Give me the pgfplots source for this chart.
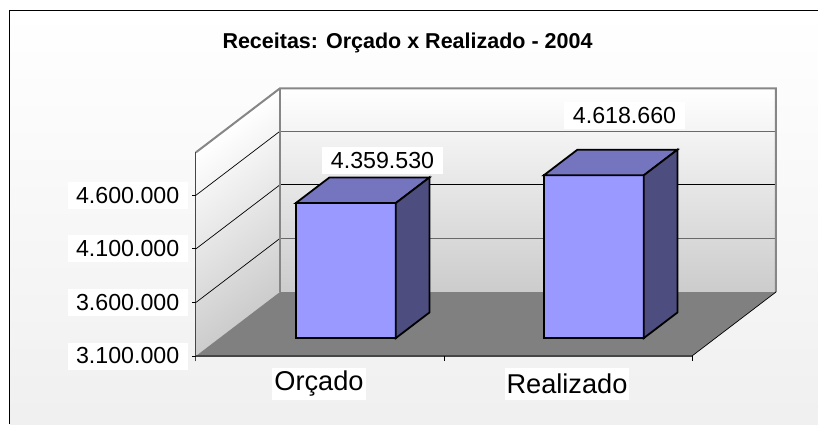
\documentclass[border=0pt]{standalone}
\usepackage{fontspec}
\setmainfont{Liberation Sans}
\usepackage{pgfplots}
\pgfplotsset{compat=1.18}
\definecolor{barfront}{RGB}{153,153,255}
\definecolor{bartop}{RGB}{117,117,191}
\definecolor{barside}{RGB}{77,77,128}
\definecolor{floorgray}{RGB}{128,128,128}
\definecolor{wallline}{RGB}{134,134,134}
\definecolor{midline}{RGB}{105,105,105}
\definecolor{axisdark}{RGB}{70,70,70}
\pgfplotsset{
  shaded/.style={patch, patch type=rectangle, shader=interp, point meta=explicit, forget plot},
  face/.style={fill=#1, draw=black, line width=1.8pt, line join=miter, forget plot},
  stroke/.style 2 args={no marks, draw=#1, line width=#2, forget plot},
}
% one 3D column: x from #1 to #2, depth 0.28 to 0.68, top at value #3 (millions)
\newcommand{\column}[3]{
  \addplot3[face=barfront] coordinates {(#1,0.28,3.1) (#2,0.28,3.1) (#2,0.28,#3) (#1,0.28,#3)} --cycle;
  \addplot3[face=bartop] coordinates {(#1,0.28,#3) (#2,0.28,#3) (#2,0.68,#3) (#1,0.68,#3)} --cycle;
  \addplot3[face=barside] coordinates {(#2,0.28,3.1) (#2,0.68,3.1) (#2,0.68,#3) (#2,0.28,#3)} --cycle;
}
\begin{document}
\begin{tikzpicture}
\begin{axis}[
  x={(248pt,0pt)}, y={(84pt,64pt)}, z={(0pt,107.2pt)},
  xmin=0, xmax=2, ymin=0, ymax=1, zmin=3.1, zmax=5.0,
  clip=false, axis on top=true,
  axis line style={draw=none}, major tick length=0pt,
  xtick={0.5,1.5}, xticklabels={Orçado,Realizado}, ytick=\empty,
  ztick={3.1,3.6,4.1,4.6},
  zticklabels={3.100.000,3.600.000,4.100.000,4.600.000},
  x tick label style={font=\fontsize{27.2}{30}\selectfont, fill=white, inner xsep=2pt, inner ysep=0pt,
    minimum height=32pt, anchor=center, yshift=-28pt, xshift=-1pt},
  z tick label style={font=\fontsize{23.2}{26}\selectfont, fill=white, inner xsep=8.5pt, inner ysep=0pt,
    minimum height=27pt, anchor=east, xshift=-8pt},
  title={\bfseries Receitas: Orçado x Realizado - 2004},
  title style={font=\fontsize{21.5}{24}\selectfont, at={(rel axis cs:0.4265,0,1.5072)}, anchor=center},
  colormap={chartgray}{rgb255=(255,255,255) rgb255=(204,204,204)},
  point meta min=0, point meta max=1,
]
% page and chart area
\coordinate (pagesw) at (axis cs:-0.7903,0,2.4657);
\coordinate (pagene) at (axis cs:2.5081,0,6.4209);
\path[fill=white] (pagesw) rectangle (pagene);
\addplot3[shaded] coordinates {(-0.75,0,2.4657) [0.3] (2.5081,0,2.4657) [0.3] (2.5081,0,6.3183) [0] (-0.75,0,6.3183) [0]};
\addplot3[stroke={black}{1pt}] coordinates {(-0.75,0,2.4657) (-0.75,0,6.3183) (2.5081,0,6.3183)};
% walls and floor
\addplot3[shaded] coordinates {(0,0,3.1) [1] (0,1,3.1) [1] (0,1,5.0) [0] (0,0,5.0) [0]};
\addplot3[shaded] coordinates {(0,1,3.1) [1] (2,1,3.1) [1] (2,1,5.0) [0] (0,1,5.0) [0]};
\addplot3[fill=floorgray, draw=none, forget plot] coordinates {(0,0,3.1) (2,0,3.1) (2,1,3.1) (0,1,3.1)} --cycle;
% gridlines on the side wall, then on the back wall
\addplot3[stroke={black}{0.7pt}] coordinates {(0,0,3.6) (0,1,3.6)};
\addplot3[stroke={black}{0.7pt}] coordinates {(0,0,4.1) (0,1,4.1)};
\addplot3[stroke={black}{0.7pt}] coordinates {(0,0,4.6) (0,1,4.6)};
\addplot3[stroke={midline}{1.3pt}] coordinates {(0,1,3.6) (2,1,3.6)};
\addplot3[stroke={black}{0.8pt}] coordinates {(0,1,4.1) (2,1,4.1)};
\addplot3[stroke={midline}{1.3pt}] coordinates {(0,1,4.6) (2,1,4.6)};
\addplot3[stroke={wallline}{2pt}] coordinates {(0,0,5.0) (0,1,5.0) (2,1,5.0) (2,1,3.1)};
\addplot3[stroke={wallline}{2pt}] coordinates {(0,1,3.1) (0,1,5.0)};
\addplot3[stroke={black}{0.7pt}] coordinates {(2,0,3.1) (2,1,3.1)};
% axis lines and ticks
\addplot3[stroke={axisdark}{1pt}] coordinates {(0,0,3.05) (0,0,5.0)};
\addplot3[stroke={axisdark}{1.6pt}] coordinates {(0,0,3.1) (2,0,3.1)};
\addplot3[stroke={black}{0.7pt}] coordinates {(1,0,3.1) (1,0,3.05)};
\addplot3[stroke={black}{0.7pt}] coordinates {(2,0,3.1) (2,0,3.05)};
\addplot3[stroke={black}{0.7pt}] coordinates {(0,0,3.1) (-0.016,0,3.1)};
\addplot3[stroke={black}{0.7pt}] coordinates {(0,0,3.6) (-0.016,0,3.6)};
\addplot3[stroke={black}{0.7pt}] coordinates {(0,0,4.1) (-0.016,0,4.1)};
\addplot3[stroke={black}{0.7pt}] coordinates {(0,0,4.6) (-0.016,0,4.6)};
% columns
\column{0.3078}{0.7110}{4.35953}
\column{1.3078}{1.7110}{4.61866}
% data labels
\node[fill=white, inner xsep=8.5pt, inner ysep=0pt, minimum height=27pt, font=\fontsize{23.2}{26}\selectfont] at (axis cs:0.5218,0.68,4.518) {4.359.530};
\node[fill=white, inner xsep=8.5pt, inner ysep=0pt, minimum height=27pt, font=\fontsize{23.2}{26}\selectfont] at (axis cs:1.4976,0.68,4.9377) {4.618.660};
\end{axis}
\pgfresetboundingbox
\path[use as bounding box] (pagesw) rectangle (pagene);
\end{tikzpicture}
\end{document}
